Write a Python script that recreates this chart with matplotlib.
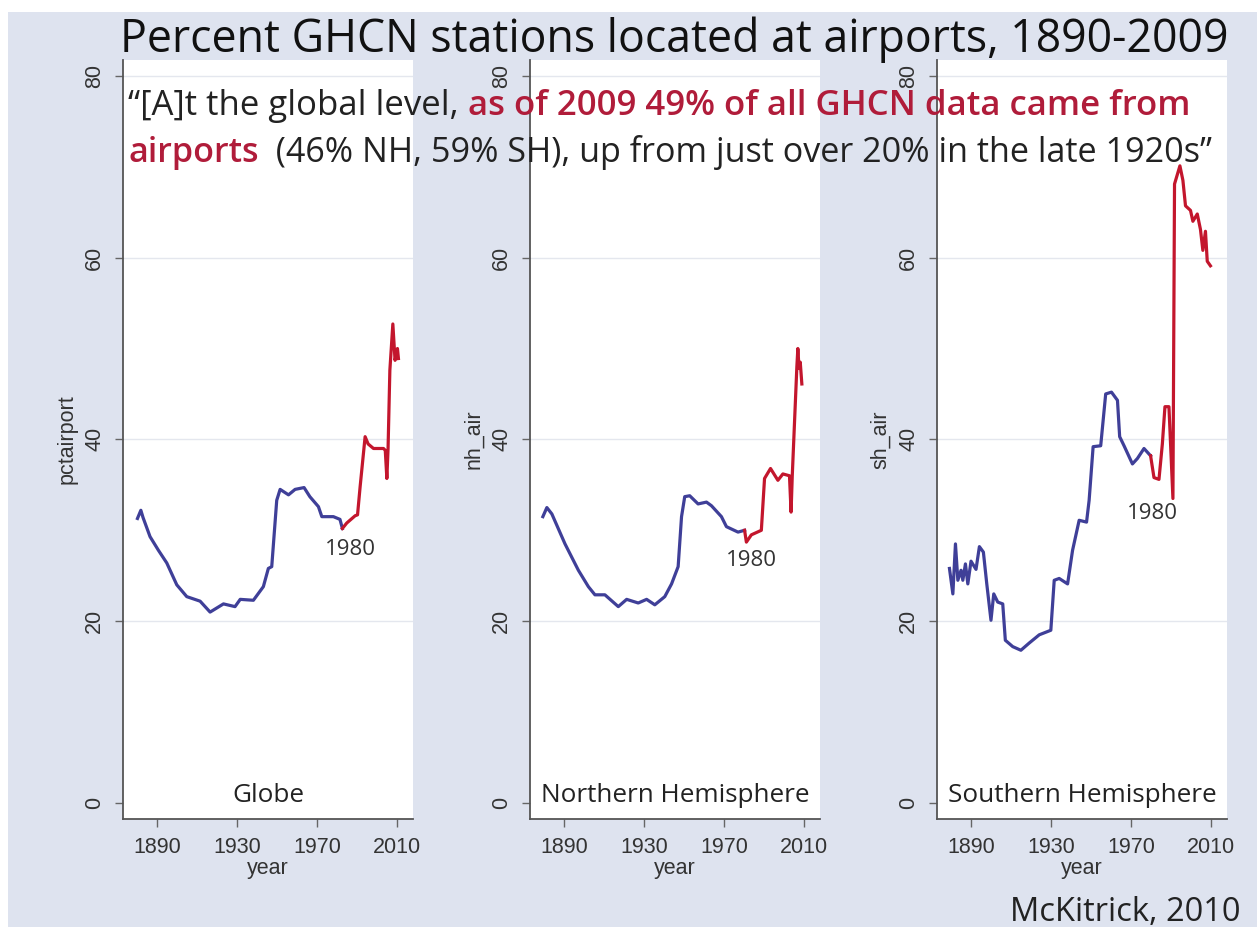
import matplotlib
matplotlib.use('Agg')
import matplotlib.pyplot as plt
from matplotlib.patches import Rectangle

# values (year, percent)
globe_year = [1880.0, 1881.7, 1882.8, 1886.3, 1890.5, 1894.7, 1899.7, 1904.7, 1911.4, 1916.4,
              1923.1, 1928.9, 1931.5, 1938.1, 1943.1, 1945.6, 1947.3, 1949.8, 1951.5, 1955.7,
              1959.0, 1963.5, 1966.4, 1970.7, 1972.4, 1978.2, 1981.5, 1982.7,
              1984.9, 1989.1, 1990.3, 1991.6, 1992.6, 1994.1, 1995.6, 1998.3, 2003.3, 2004.2,
              2005.0, 2005.6, 2006.5, 2008.0, 2009.1, 2010.3, 2010.8]
globe_val = [31.3, 32.2, 31.4, 29.3, 27.8, 26.4, 24.0, 22.7, 22.2, 21.0,
             21.9, 21.6, 22.4, 22.3, 23.8, 25.8, 26.0, 33.3, 34.5, 33.9,
             34.5, 34.7, 33.7, 32.6, 31.5, 31.5, 31.2, 30.2,
             30.8, 31.6, 31.7, 34.8, 37.0, 40.3, 39.5, 39.0, 39.0, 38.8,
             35.7, 39.0, 47.6, 52.7, 48.7, 50.0, 48.9]
globe_break = 1982.7

nh_year = [1879.2, 1881.2, 1883.7, 1890.3, 1897.0, 1902.0, 1905.3, 1910.3, 1917.0, 1921.2,
           1927.0, 1931.2, 1935.3, 1940.3, 1943.7, 1947.0, 1948.7, 1950.3, 1952.8, 1957.0,
           1961.2, 1963.7, 1968.7, 1971.2, 1977.0, 1980.3,
           1981.2, 1983.7, 1988.7, 1990.3, 1993.3, 1997.0, 1999.5, 2002.8, 2003.6, 2004.2,
           2006.5, 2007.0, 2007.6, 2008.2, 2009.0]
nh_val = [31.5, 32.5, 31.8, 28.5, 25.6, 23.8, 22.9, 22.9, 21.6, 22.4,
          22.0, 22.4, 21.8, 22.7, 24.1, 26.0, 31.5, 33.7, 33.8, 32.9,
          33.1, 32.7, 31.5, 30.4, 29.8, 30.0,
          28.7, 29.5, 30.0, 35.7, 36.8, 35.5, 36.2, 36.0, 32.0, 36.0,
          48.0, 50.0, 47.8, 48.5, 46.1]
nh_break = 1980.3

sh_year = [1879.0, 1880.7, 1882.0, 1883.2, 1884.8, 1885.7, 1887.0, 1888.2, 1889.8, 1892.3,
           1894.0, 1896.0, 1897.7, 1899.8, 1901.2, 1903.2, 1905.7, 1907.0, 1910.7, 1914.8,
           1919.0, 1924.0, 1929.8, 1931.5, 1934.0, 1938.2, 1940.7, 1944.0, 1947.7, 1949.0,
           1951.0, 1954.8, 1957.3, 1960.2, 1963.2, 1964.3, 1966.5, 1970.7, 1973.2, 1976.5,
           1979.8,
           1981.5, 1984.0, 1985.7, 1987.0, 1989.0, 1991.0, 1991.8, 1994.5, 1996.0, 1997.3,
           1999.8, 2001.0, 2003.2, 2004.8, 2006.0, 2007.3, 2008.2, 2009.8]
sh_val = [25.8, 23.0, 28.5, 24.5, 25.6, 24.5, 26.3, 24.1, 26.6, 25.7,
          28.2, 27.6, 24.1, 20.1, 23.0, 22.1, 21.9, 17.9, 17.2, 16.8,
          17.6, 18.5, 19.0, 24.5, 24.7, 24.1, 27.8, 31.1, 30.9, 33.3,
          39.2, 39.3, 45.0, 45.2, 44.3, 40.3, 39.3, 37.3, 37.9, 39.0,
          38.2,
          35.8, 35.6, 39.5, 43.6, 43.6, 33.5, 68.1, 70.1, 68.5, 65.7,
          65.2, 64.0, 64.8, 63.1, 60.8, 62.9, 59.6, 59.1]
sh_break = 1979.8

panels = [
    (globe_year, globe_val, globe_break, 'pctairport', 'Globe', (1986.8, 27.9)),
    (nh_year, nh_val, nh_break, 'nh_air', 'Northern Hemisphere', (1983.5, 26.7)),
    (sh_year, sh_val, sh_break, 'sh_air', 'Southern Hemisphere', (1980.5, 31.9)),
]
xticks = [1890, 1930, 1970, 2010]
yticks = [0, 20, 40, 60, 80]
grid_vals = [20, 40, 60, 80]

BG = '#dee3ef'
BLUE = '#3f3f98'
RED = '#c3162d'
TXTRED = '#b01c3a'
DARK = '#222222'
SANS = ['Open Sans', 'DejaVu Sans']
ARIAL = ['Liberation Sans', 'DejaVu Sans']

W, H = 1257, 927
fig = plt.figure(figsize=(W / 100, H / 100), dpi=100, facecolor=BG)
fig.add_artist(Rectangle((0, 1 - 12 / H), 1, 12 / H, transform=fig.transFigure,
                         facecolor='white', edgecolor='none'))
fig.add_artist(Rectangle((0, 0), 8 / W, 1, transform=fig.transFigure,
                         facecolor='white', edgecolor='none'))

lefts = [122.7, 529.7, 936.7]
for (yr, val, brk, ylab, name, ann), lx in zip(panels, lefts):
    ax = fig.add_axes([lx / W, 1 - 819.3 / H, 290.5 / W, 759.8 / H])
    ax.set_facecolor('white')
    for g in grid_vals:
        ax.axhline(g, color='#e4e7ee', lw=1.0, zorder=0)
    bx = [x for x in yr if x <= brk]
    by = val[:len(bx)]
    rx = yr[len(bx) - 1:]
    ry = val[len(bx) - 1:]
    ax.plot(bx, by, color=BLUE, lw=2.3, solid_joinstyle='round')
    ax.plot(rx, ry, color=RED, lw=2.3, solid_joinstyle='round')
    ax.text(ann[0], ann[1], '1980', ha='center', va='center', fontsize=16,
            family=SANS, color='#333333')
    ax.text(0.5, 0.023, name, transform=ax.transAxes, ha='center', va='baseline',
            fontsize=18.8, family=SANS, color=DARK)
    ax.set_xlim(1872.6, 2018.2)
    ax.set_ylim(-1.8, 81.8)
    ax.set_xticks(xticks)
    ax.set_yticks(yticks)
    for s in ['top', 'right']:
        ax.spines[s].set_visible(False)
    for s in ['left', 'bottom']:
        ax.spines[s].set_color('#555555')
        ax.spines[s].set_linewidth(1.3)
    ax.tick_params(direction='out', length=5.5, width=1, color='#666666',
                   labelcolor='#333333', labelsize=15.5, pad=7)
    for lbl in ax.get_xticklabels() + ax.get_yticklabels():
        lbl.set_family(ARIAL)
    for lbl in ax.get_yticklabels():
        lbl.set_rotation(90)
        lbl.set_va('center')
    ax.set_xlabel('year', family=ARIAL, fontsize=15.5, color='#333333', labelpad=0)
    ax.set_ylabel(ylab, family=ARIAL, fontsize=15.5, color='#333333', labelpad=5)

renderer = fig.canvas.get_renderer()


def put_row(parts, x0, base, target_w, size):
    # lay text pieces side by side, then rescale so the row spans target_w pixels
    for _ in range(2):
        arts = []
        x = x0
        for s, col, wt in parts:
            t = fig.text(x / W, 1 - base / H, s, color=col, fontsize=size,
                         family=SANS, weight=wt, va='baseline', ha='left')
            bb = t.get_window_extent(renderer)
            x += bb.width
            arts.append(t)
        total = x - x0
        if abs(total - target_w) < 2:
            return
        for t in arts:
            t.remove()
        size = size * target_w / total
    return


put_row([('Percent GHCN stations located at airports, 1890-2009', '#111111', 'normal')],
        120, 52, 1108, 30)
put_row([('\u201c[A]t the global level, ', DARK, 'normal'),
         ('as of 2009 49% of all GHCN data came from', TXTRED, 'semibold')],
        128, 115, 1062, 20)
put_row([('airports', TXTRED, 'semibold'),
         ('  (46% NH, 59% SH), up from just over 20% in the late 1920s\u201d', DARK, 'normal')],
        128, 162, 1085, 20)

fig.text(1240 / W, 1 - 921 / H, 'McKitrick, 2010', ha='right', va='baseline',
         fontsize=23.5, family=SANS, color=DARK)

fig.savefig('out.png', dpi=100, facecolor=BG)
